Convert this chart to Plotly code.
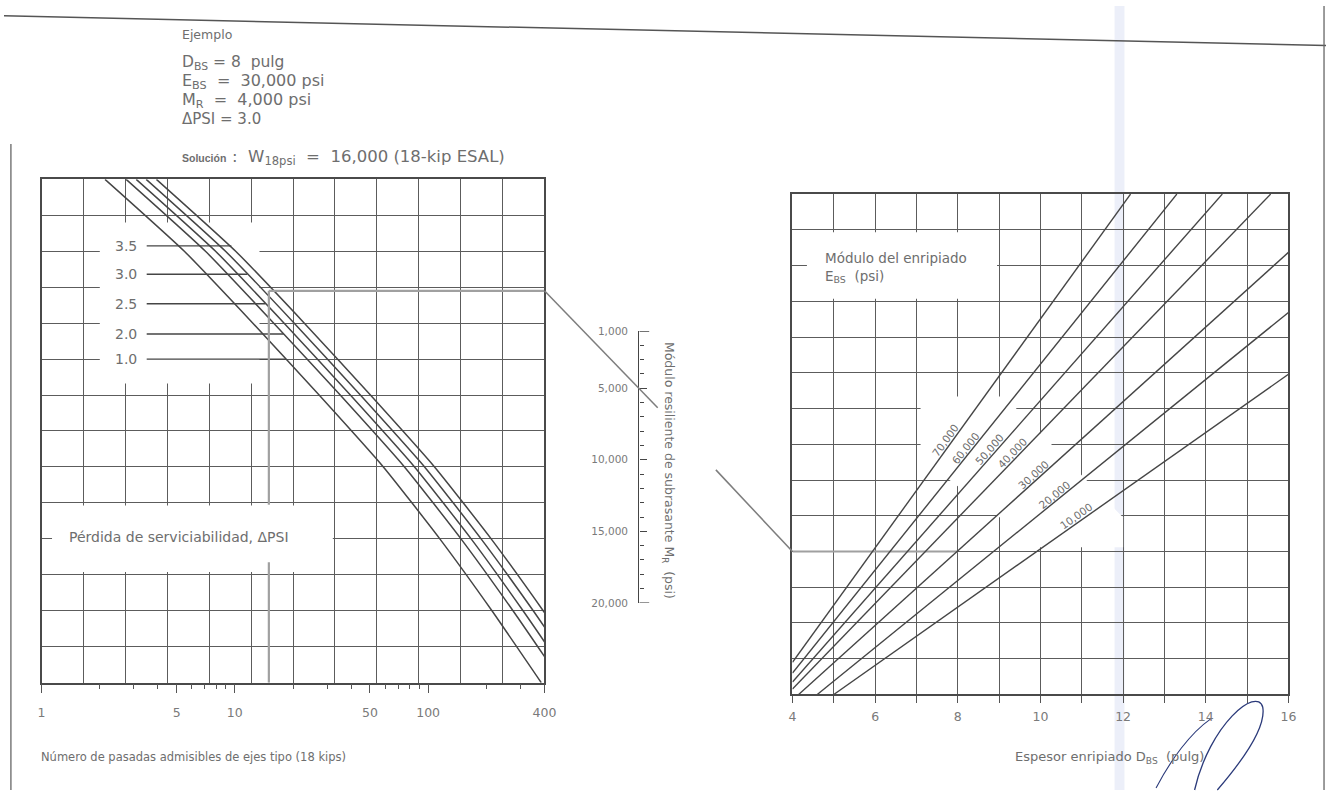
import math
import plotly.graph_objects as go

# ---------------- data ----------------
# Left panel: allowable 18-kip passes (thousands) on each ΔPSI curve,
# read at the turning-scale levels (grid units: 0 = bottom, 14 = top)
TURN_LEVELS = [14, 12, 10, 8, 6, 4, 2, 0]
PASSES_DPSI_1_0 = [2.13, 5.48, 12.4, 27.3, 58.7, 115, 214, 385]
PASSES_DPSI_2_0 = [2.74, 7.05, 15.9, 35.1, 75.5, 148, 275, 495]
PASSES_DPSI_2_5 = [3.09, 7.95, 18.0, 39.6, 85.1, 167, 310, 558]
PASSES_DPSI_3_0 = [3.48, 8.95, 20.3, 44.6, 95.9, 188, 350, 629]
PASSES_DPSI_3_5 = [3.93, 10.1, 22.9, 50.3, 108, 212, 394, 710]

DPSI_LABELS = ["3.5", "3.0", "2.5", "2.0", "1.0"]
DPSI_LEADER_LEVEL = [12.15, 11.36, 10.54, 9.70, 9.0]
DPSI_LEADER_END = [9.6, 11.6, 14.4, 17.9, 18.4]
DPSI_LEADER_START = 3.5

PASS_TICKS = [1, 5, 10, 50, 100, 400]
PASS_TICK_TEXT = ["1", "5", "10", "50", "100", "400"]
PASS_MINOR = [2, 3, 4, 6, 7, 8, 9, 20, 30, 40, 60, 70, 80, 90, 200, 300]

# Middle scale: roadbed resilient modulus (psi)
MR_TICKS = [1000, 5000, 10000, 15000, 20000]
MR_TICK_TEXT = ["1,000", "5,000", "10,000", "15,000", "20,000"]
MR_MINOR = [2000, 3000, 4000, 6000, 7000, 8000, 9000, 11000, 12000, 13000, 14000,
            16000, 17000, 18000, 19000]

# Right panel: base modulus lines, end points (thickness D in inches, level in grid units)
E_LABELS = ["70,000", "60,000", "50,000", "40,000", "30,000", "20,000", "10,000"]
E_D_START = [4.0, 4.0, 4.0, 4.0, 4.15, 4.6, 5.0]
E_G_START = [0.9, 0.6, 0.35, 0.15, 0.0, 0.0, 0.0]
E_D_END = [12.18, 13.3, 14.4, 15.57, 16.0, 16.0, 16.0]
E_G_END = [14.0, 14.0, 14.0, 14.0, 12.37, 10.69, 8.96]
E_LABEL_D = [7.82, 8.3, 8.88, 9.42, 9.92, 10.42, 10.95]

D_TICKS = [4, 6, 8, 10, 12, 14, 16]
D_MINOR = [5, 7, 9, 11, 13, 15]

# Worked example
EX_PASSES = 15
EX_LEVEL_LEFT = 10.9
EX_MR = 5000
EX_D = 8
EX_LEVEL_RIGHT = 4.0

# ---------------- layout geometry (page pixels) ----------------
FIG_W, FIG_H = 1338, 796


def px(x):
    return x / FIG_W


def py(y):
    return 1 - y / FIG_H


L_X0, L_X1, L_Y0, L_Y1 = 38, 547, 176, 687
R_X0, R_X1, R_Y0, R_Y1 = 798, 1300, 191, 699
L_DOM_X = [px(L_X0), px(L_X1)]
L_DOM_Y = [py(L_Y1), py(L_Y0)]
R_DOM_X = [px(R_X0), px(R_X1)]
R_DOM_Y = [py(R_Y1), py(R_Y0)]
S_DOM_X = [px(643), px(663)]
S_DOM_Y = [py(606), py(330)]

GRID_C = "#5c5c5c"
LINE_C = "#454545"
TEXT_C = "#6e6e6e"
TICK_C = "#7a7a7a"
GUIDE_C = "#a0a0a0"
FONT = "DejaVu Sans, Verdana, sans-serif"


def left_level_paper(g):
    return L_DOM_Y[0] + g / 14 * (L_DOM_Y[1] - L_DOM_Y[0])


def right_level_paper(g):
    return R_DOM_Y[0] + g / 14 * (R_DOM_Y[1] - R_DOM_Y[0])


def mr_paper(v):
    return S_DOM_Y[1] - (v - 1000) / 19000 * (S_DOM_Y[1] - S_DOM_Y[0])


fig = go.Figure()
ann = []


def txt(x, y, text, size=13, anchor="left", xref="paper", yref="paper", **kw):
    ann.append(dict(x=x, y=y, xref=xref, yref=yref, text=text, showarrow=False,
                    xanchor=anchor, yanchor="middle",
                    font=dict(family=FONT, size=size, color=TEXT_C), **kw))


# ---------------- left panel ----------------
fig.add_trace(go.Scatter(x=[0, 12], y=[0, 14], xaxis="x", yaxis="y", mode="markers",
                         marker=dict(opacity=0), hoverinfo="skip", showlegend=False))
for series in [PASSES_DPSI_1_0, PASSES_DPSI_2_0, PASSES_DPSI_2_5, PASSES_DPSI_3_0, PASSES_DPSI_3_5]:
    fig.add_trace(go.Scatter(x=series, y=TURN_LEVELS, xaxis="x2", yaxis="y", mode="lines",
                             line=dict(color=LINE_C, width=1.5, shape="spline", smoothing=0.5),
                             hoverinfo="skip", showlegend=False))

for lvl, end in zip(DPSI_LEADER_LEVEL, DPSI_LEADER_END):
    fig.add_trace(go.Scatter(x=[DPSI_LEADER_START, end], y=[lvl, lvl], xaxis="x2", yaxis="y",
                             mode="lines", line=dict(color=LINE_C, width=1.4),
                             hoverinfo="skip", showlegend=False))

fig.add_trace(go.Scatter(x=[EX_PASSES, 400], y=[EX_LEVEL_LEFT, EX_LEVEL_LEFT], xaxis="x2", yaxis="y",
                         mode="lines", line=dict(color=GUIDE_C, width=2.2),
                         hoverinfo="skip", showlegend=False))
fig.add_trace(go.Scatter(x=[EX_PASSES, EX_PASSES, None, EX_PASSES, EX_PASSES],
                         y=[EX_LEVEL_LEFT, 4.95, None, 3.35, 0], xaxis="x2", yaxis="y",
                         mode="lines", line=dict(color=GUIDE_C, width=2.2),
                         hoverinfo="skip", showlegend=False))

# ---------------- middle scale ----------------
fig.add_trace(go.Scatter(x=[0.5], y=[5000], xaxis="x4", yaxis="y4", mode="markers",
                         marker=dict(opacity=0), hoverinfo="skip", showlegend=False))

# ---------------- right panel ----------------
fig.add_trace(go.Scatter(x=[4, 16], y=[0, 14], xaxis="x3", yaxis="y3", mode="markers",
                         marker=dict(opacity=0), hoverinfo="skip", showlegend=False))
fig.add_trace(go.Scatter(x=[4, EX_D], y=[EX_LEVEL_RIGHT, EX_LEVEL_RIGHT], xaxis="x3", yaxis="y3",
                         mode="lines", line=dict(color=GUIDE_C, width=2.2),
                         hoverinfo="skip", showlegend=False))
for d0, g0, d1, g1 in zip(E_D_START, E_G_START, E_D_END, E_G_END):
    fig.add_trace(go.Scatter(x=[d0, d1], y=[g0, g1], xaxis="x3", yaxis="y3", mode="lines",
                             line=dict(color=LINE_C, width=1.4), hoverinfo="skip", showlegend=False))

R_PX_PER_D = (R_X1 - R_X0) / 12
R_PX_PER_G = (R_Y1 - R_Y0) / 14
for lab, d0, g0, d1, g1, dl in zip(E_LABELS, E_D_START, E_G_START, E_D_END, E_G_END, E_LABEL_D):
    slope_px = ((g1 - g0) * R_PX_PER_G) / ((d1 - d0) * R_PX_PER_D)
    theta = math.atan(slope_px)
    gl = g0 + (dl - d0) * (g1 - g0) / (d1 - d0)
    ann.append(dict(x=dl, y=gl, xref="x3", yref="y3", text=lab, showarrow=False,
                    textangle=-math.degrees(theta),
                    xshift=-6 * math.sin(theta), yshift=6 * math.cos(theta),
                    font=dict(family=FONT, size=10.5, color=TEXT_C)))

# ---------------- shapes ----------------
shapes = []
shapes.append(dict(type="rect", xref="x", yref="y", x0=1.39, x1=5.2, y0=8.32, y1=12.8,
                   fillcolor="white", line=dict(width=0), layer="between"))
shapes.append(dict(type="rect", xref="x", yref="y", x0=0.25, x1=6.95, y0=3.08, y1=4.93,
                   fillcolor="white", line=dict(width=0), layer="between"))
shapes.append(dict(type="rect", xref="x3", yref="y3", x0=4.35, x1=8.95, y0=11.07, y1=12.93,
                   fillcolor="white", line=dict(width=0), layer="between"))
shapes.append(dict(type="path", xref="x3", yref="y3",
                   path="M 7.1 8.34 L 9.13 8.34 L 12.0 4.95 L 12.0 4.12 L 9.98 4.12 L 7.1 6.6 Z",
                   fillcolor="white", line=dict(width=0), layer="between"))

ax_, ay_ = L_DOM_X[1], left_level_paper(EX_LEVEL_LEFT)
bx_, by_ = S_DOM_X[0], mr_paper(EX_MR)
cx_, cy_ = R_DOM_X[0], right_level_paper(EX_LEVEL_RIGHT)
shapes.append(dict(type="line", xref="paper", yref="paper", x0=ax_, y0=ay_,
                   x1=bx_ + 0.12 * (cx_ - bx_), y1=by_ + 0.12 * (cy_ - by_),
                   line=dict(color="#7d7d7d", width=1.5)))
shapes.append(dict(type="line", xref="paper", yref="paper",
                   x0=bx_ + 0.5 * (cx_ - bx_), y0=by_ + 0.5 * (cy_ - by_), x1=cx_, y1=cy_,
                   line=dict(color="#7d7d7d", width=1.5)))

for v in [1000, 20000]:
    shapes.append(dict(type="line", xref="x4", yref="y4", x0=0, x1=0.5, y0=v, y1=v,
                       line=dict(color=LINE_C, width=1.4)))

# page frame / scan artefacts
shapes.append(dict(type="rect", xref="paper", yref="paper", x0=px(1124), x1=px(1134), y0=0, y1=1,
                   fillcolor="rgba(200,208,238,0.35)", line=dict(width=0), layer="below"))
shapes.append(dict(type="line", xref="paper", yref="paper", x0=0, y0=py(10), x1=1, y1=py(40),
                   line=dict(color="#555555", width=1.5)))
shapes.append(dict(type="line", xref="paper", yref="paper", x0=px(7), y0=py(140), x1=px(7), y1=0,
                   line=dict(color="#666666", width=1.3)))
shapes.append(dict(type="line", xref="paper", yref="paper", x0=px(1336), y0=1, x1=px(1336), y1=0,
                   line=dict(color="#666666", width=1.3)))
# signature strokes (bottom right)
shapes.append(dict(type="path", xref="paper", yref="paper",
                   path=(f"M {px(1205)} {py(796)} C {px(1220)} {py(730)}, {px(1268)} {py(690)}, "
                         f"{px(1274)} {py(712)} C {px(1278)} {py(735)}, {px(1246)} {py(775)}, "
                         f"{px(1228)} {py(796)}"),
                   line=dict(color="#2b3a7a", width=1.3)))
shapes.append(dict(type="path", xref="paper", yref="paper",
                   path=(f"M {px(1166)} {py(794)} C {px(1181)} {py(765)}, {px(1201)} {py(738)}, "
                         f"{px(1221)} {py(724)}"),
                   line=dict(color="#2b3a7a", width=1.1)))

# ---------------- texts ----------------
txt(px(178), py(29), "Ejemplo", 12.5)
txt(px(178), py(58), "D<sub>BS</sub> = 8  pulg", 15.5)
txt(px(178), py(77), "E<sub>BS</sub>  =  30,000 psi", 16)
txt(px(178), py(96), "M<sub>R</sub>  =  4,000 psi", 16)
txt(px(178), py(115), "ΔPSI = 3.0", 15)
ann.append(dict(x=px(178), y=py(154), xref="paper", yref="paper", showarrow=False,
                xanchor="left", yanchor="middle", text="<b>Solución</b>",
                font=dict(family="Liberation Sans, Arial, sans-serif", size=10.5, color=TEXT_C)))
txt(px(229), py(154), ":  W<sub>18psi</sub>  =  16,000 (18-kip ESAL)", 16.5)

for lab, lvl in zip(DPSI_LABELS, DPSI_LEADER_LEVEL):
    txt(2.33, lvl, lab, 14, anchor="right", xref="x", yref="y")
txt(0.6, 4.05, "Pérdida de serviciabilidad, ΔPSI", 14, xref="x", yref="y")
txt(4.75, 11.95, "Módulo del enripiado<br>E<sub>BS</sub>  (psi)", 13.5, xref="x3", yref="y3", align="left")

txt(px(35), py(763), "Número de pasadas admisibles de ejes tipo (18 kips)", 11.5)
txt(px(1217), py(763), "Espesor enripiado D<sub>BS</sub>  (pulg)", 13, anchor="right")
ann.append(dict(x=px(672), y=py(472), xref="paper", yref="paper", showarrow=False,
                text="Módulo resiliente de subrasante M<sub>R</sub>  (psi)", textangle=90,
                font=dict(family=FONT, size=12.5, color=TEXT_C)))

# ---------------- axes ----------------
grid_axis = dict(showgrid=True, gridcolor=GRID_C, gridwidth=1.3, dtick=1, tick0=0,
                 showticklabels=False, ticks="", zeroline=False, showline=True, mirror=True,
                 linecolor="#4a4a4a", linewidth=1.6)

fig.update_layout(
    width=FIG_W, height=FIG_H, margin=dict(l=0, r=0, t=0, b=0),
    paper_bgcolor="white", plot_bgcolor="rgba(0,0,0,0)", showlegend=False,
    font=dict(family=FONT, color=TEXT_C),
    xaxis=dict(domain=L_DOM_X, range=[0, 12], anchor="y", **grid_axis),
    yaxis=dict(domain=L_DOM_Y, range=[0, 14], anchor="x", **grid_axis),
    xaxis2=dict(overlaying="x", anchor="y", side="bottom", type="log",
                range=[0, math.log10(400)], showgrid=False, zeroline=False, showline=False,
                tickmode="array", tickvals=PASS_TICKS, ticktext=PASS_TICK_TEXT,
                ticks="outside", ticklen=9, tickwidth=1.3, tickcolor="#555",
                ticklabelstandoff=9,
                minor=dict(tickmode="array", tickvals=PASS_MINOR, ticks="outside",
                           ticklen=5, tickwidth=1.2, tickcolor="#555", showgrid=False),
                tickfont=dict(family=FONT, size=12.5, color=TICK_C)),
    xaxis3=dict(domain=R_DOM_X, range=[4, 16], anchor="y3",
                showgrid=True, gridcolor=GRID_C, gridwidth=1.3, zeroline=False,
                showline=True, mirror=True, linecolor="#4a4a4a", linewidth=1.6,
                tickmode="array", tickvals=D_TICKS,
                ticks="outside", ticklen=7, tickwidth=1.3, tickcolor="#555",
                ticklabelstandoff=3,
                minor=dict(tickmode="array", tickvals=D_MINOR, ticks="outside", ticklen=7,
                           tickwidth=1.3, tickcolor="#555", showgrid=True,
                           gridcolor=GRID_C, gridwidth=1.3),
                tickfont=dict(family=FONT, size=12.5, color=TICK_C)),
    yaxis3=dict(domain=R_DOM_Y, range=[0, 14], anchor="x3", **grid_axis),
    xaxis4=dict(domain=S_DOM_X, range=[0, 1], anchor="y4", visible=False),
    yaxis4=dict(domain=S_DOM_Y, range=[20000, 1000], anchor="x4", side="left",
                showgrid=False, zeroline=False, showline=True, linecolor=LINE_C, linewidth=1.4,
                tickmode="array", tickvals=MR_TICKS, ticktext=MR_TICK_TEXT,
                ticks="inside", ticklen=7, tickwidth=1.3, tickcolor=LINE_C,
                ticklabelstandoff=8,
                minor=dict(tickmode="array", tickvals=MR_MINOR, ticks="inside", ticklen=4,
                           tickwidth=1.1, tickcolor=LINE_C),
                tickfont=dict(family=FONT, size=10.5, color=TICK_C)),
    shapes=shapes,
    annotations=ann,
)

fig.write_html("out.html", config={"displayModeBar": False},
               post_script="document.body.style.margin='0';document.body.style.overflow='hidden';")
